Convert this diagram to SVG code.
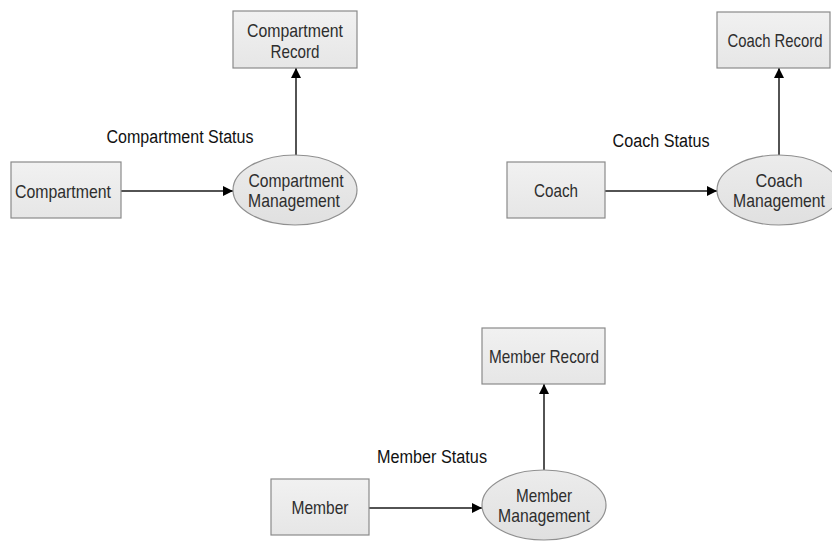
<svg xmlns="http://www.w3.org/2000/svg" width="832" height="541" viewBox="0 0 832 541">
  <style>
    .box { fill: url(#boxFill); stroke: #8a8a8a; stroke-width: 1.2; }
    .proc { fill: url(#procFill); stroke: #8f8f8f; stroke-width: 1.2; }
    .t { font-family: "Liberation Sans", Arial, sans-serif; font-size: 19px; fill: #2e2e2e; text-anchor: middle; }
    .lbl { font-family: "Liberation Sans", Arial, sans-serif; font-size: 18px; fill: #111; text-anchor: middle; }
    .flow { stroke: #1a1a1a; stroke-width: 1.5; fill: none; marker-end: url(#head); }
  </style>
  <defs>
    <linearGradient id="boxFill" x1="0" y1="0" x2="0" y2="1">
      <stop offset="0" stop-color="#f1f1f1"/>
      <stop offset="1" stop-color="#e6e6e6"/>
    </linearGradient>
    <linearGradient id="procFill" x1="0" y1="0" x2="0" y2="1">
      <stop offset="0" stop-color="#ececec"/>
      <stop offset="1" stop-color="#e0e0e0"/>
    </linearGradient>
    <marker id="head" viewBox="0 0 10 10" refX="10" refY="5" markerWidth="10" markerHeight="11" markerUnits="userSpaceOnUse" orient="auto">
      <path d="M0,0 L10,5 L0,10 Z" fill="#000"/>
    </marker>
  </defs>

  <!-- data flows -->
  <g id="connectors">
    <line class="flow" x1="121" y1="191" x2="233" y2="191"/>
    <line class="flow" x1="296" y1="155" x2="296" y2="68"/>
    <line class="flow" x1="605" y1="191" x2="717" y2="191"/>
    <line class="flow" x1="779" y1="155" x2="779" y2="68"/>
    <line class="flow" x1="369" y1="508" x2="482" y2="508"/>
    <line class="flow" x1="544" y1="470" x2="544" y2="384"/>
    <text class="lbl" x="180" y="143" textLength="147" lengthAdjust="spacingAndGlyphs">Compartment Status</text>
    <text class="lbl" x="661" y="147" textLength="97" lengthAdjust="spacingAndGlyphs">Coach Status</text>
    <text class="lbl" x="432" y="463" textLength="110" lengthAdjust="spacingAndGlyphs">Member Status</text>
  </g>

  <!-- compartment -->
  <g id="compartment">
    <rect class="box" x="11" y="162" width="110" height="56"/>
    <text class="t" x="63" y="198" textLength="96" lengthAdjust="spacingAndGlyphs">Compartment</text>
  </g>
  <g id="compartment-management">
    <ellipse class="proc" cx="295" cy="190" rx="62" ry="35"/>
    <text class="t" x="296" y="187" textLength="95" lengthAdjust="spacingAndGlyphs">Compartment</text>
    <text class="t" x="294" y="207" textLength="92" lengthAdjust="spacingAndGlyphs">Management</text>
  </g>
  <g id="compartment-record">
    <rect class="box" x="233" y="11" width="124" height="57"/>
    <text class="t" x="295" y="37" textLength="96" lengthAdjust="spacingAndGlyphs">Compartment</text>
    <text class="t" x="295" y="58" textLength="49" lengthAdjust="spacingAndGlyphs">Record</text>
  </g>

  <!-- coach -->
  <g id="coach">
    <rect class="box" x="507" y="162" width="98" height="56"/>
    <text class="t" x="556" y="197" textLength="44" lengthAdjust="spacingAndGlyphs">Coach</text>
  </g>
  <g id="coach-management">
    <ellipse class="proc" cx="779" cy="190" rx="62" ry="35"/>
    <text class="t" x="779" y="187" textLength="47" lengthAdjust="spacingAndGlyphs">Coach</text>
    <text class="t" x="779" y="207" textLength="92" lengthAdjust="spacingAndGlyphs">Management</text>
  </g>
  <g id="coach-record">
    <rect class="box" x="717" y="12" width="113" height="56"/>
    <text class="t" x="775" y="47" textLength="95" lengthAdjust="spacingAndGlyphs">Coach Record</text>
  </g>

  <!-- member -->
  <g id="member">
    <rect class="box" x="271" y="479" width="98" height="56"/>
    <text class="t" x="320" y="514" textLength="57" lengthAdjust="spacingAndGlyphs">Member</text>
  </g>
  <g id="member-management">
    <ellipse class="proc" cx="544" cy="505" rx="62" ry="35"/>
    <text class="t" x="544" y="502" textLength="56" lengthAdjust="spacingAndGlyphs">Member</text>
    <text class="t" x="544" y="522" textLength="92" lengthAdjust="spacingAndGlyphs">Management</text>
  </g>
  <g id="member-record">
    <rect class="box" x="482" y="328" width="123" height="56"/>
    <text class="t" x="544" y="363" textLength="110" lengthAdjust="spacingAndGlyphs">Member Record</text>
  </g>
</svg>
